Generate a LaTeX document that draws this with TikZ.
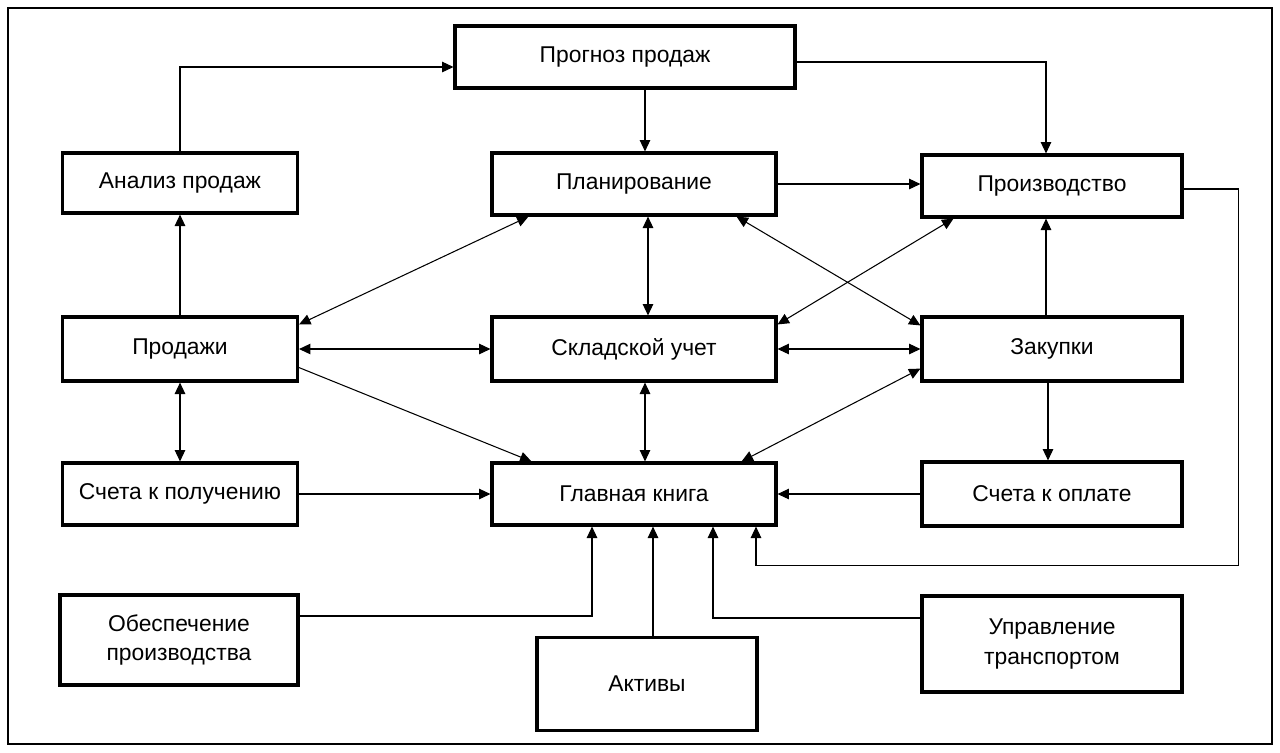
\documentclass[tikz,border=0pt]{standalone}
\usepackage{fontspec}
\setmainfont{Liberation Sans}
\usetikzlibrary{arrows.meta,calc}

\begin{document}
\begin{tikzpicture}[x=0.02cm,y=-0.02cm,font=\fontsize{13}{17}\selectfont,
box/.style={draw,line width=1.8pt,minimum width=4.7cm,minimum height=1.24cm,align=center,inner sep=0pt},
arr/.style={-{Triangle[length=6.5pt,width=6pt]},line width=0.6pt},
darr/.style={{Triangle[length=6.5pt,width=6pt]}-{Triangle[length=6.5pt,width=6pt]},line width=0.6pt}]
\useasboundingbox (0,0) rectangle (1280,752);
\draw[line width=1.4pt] (8,8) rectangle (1272,744);
\node[box,minimum width=6.8cm] (prognoz) at (625,57) {Прогноз продаж};
\node[box,minimum height=1.2cm] (analiz) at (180,183) {Анализ продаж};
\node[box,minimum width=5.68cm] (plan) at (634,184) {Планирование};
\node[box,minimum width=5.2cm] (proizv) at (1052,186) {Производство};
\node[box,minimum height=1.28cm] (prodazhi) at (180,349) {Продажи};
\node[box,minimum width=5.68cm,minimum height=1.28cm] (sklad) at (634,349) {Складской учет};
\node[box,minimum width=5.2cm,minimum height=1.28cm] (zakupki) at (1052,349) {Закупки};
\node[box] (poluch) at (180,494) {Счета к получению};
\node[box,minimum width=5.68cm] (kniga) at (634,494) {Главная книга};
\node[box,minimum width=5.2cm,minimum height=1.28cm] (oplata) at (1052,494) {Счета к оплате};
\node[box,minimum width=4.76cm,minimum height=1.8cm] (obesp) at (179,640) {Обеспечение\\производства};
\node[box,minimum width=4.4cm,minimum height=1.86cm] (aktivy) at (647,684) {Активы};
\node[box,minimum width=5.2cm,minimum height=1.92cm] (transp) at (1052,644) {Управление\\транспортом};
\draw[arr] (analiz.north) |- ($(prognoz.west)+(0,10)$);
\draw[arr] ($(prognoz.south)+(20,0)$) -- ($(plan.north)+(11,0)$);
\draw[arr] ($(prognoz.east)+(0,5)$) -| ($(proizv.north)+(-6,0)$);
\draw[arr] (plan.east) -- (plan.east -| proizv.west);
\draw[arr] ($(proizv.east)+(0,3)$) -- ++(55,0) |- ($(kniga.south)+(122,39)$) -- ($(kniga.south)+(122,0)$);
\draw[arr] (prodazhi.north) -- (analiz.south);
\draw[darr] ($(prodazhi.north east)+(0,9)$) -- ($(plan.south west)+(38,0)$);
\draw[darr] ($(plan.south)+(14,0)$) -- ($(sklad.north)+(14,0)$);
\draw[darr] ($(plan.south east)+(-41,0)$) -- ($(zakupki.north west)+(0,10)$);
\draw[darr] ($(proizv.south west)+(33,0)$) -- ($(sklad.north east)+(0,9)$);
\draw[arr] ($(zakupki.north)+(-6,0)$) -- ($(proizv.south)+(-6,0)$);
\draw[darr] (prodazhi.east) -- (sklad.west);
\draw[darr] (sklad.east) -- (zakupki.west);
\draw[arr] ($(prodazhi.south east)+(0,-15)$) -- ($(kniga.north west)+(41,0)$);
\draw[darr] ($(sklad.south)+(11,0)$) -- ($(kniga.north)+(11,0)$);
\draw[darr] ($(kniga.north east)+(-36,0)$) -- ($(zakupki.south west)+(0,-14)$);
\draw[darr] (prodazhi.south) -- (poluch.north);
\draw[arr] ($(zakupki.south)+(-4,0)$) -- ($(oplata.north)+(-4,0)$);
\draw[arr] (poluch.east) -- (kniga.west);
\draw[arr] (oplata.west) -- (kniga.east);
\draw[arr] ($(obesp.east)+(0,-24)$) -| ($(kniga.south)+(-42,0)$);
\draw[arr] ($(aktivy.north)+(6,0)$) -- ($(kniga.south)+(19,0)$);
\draw[arr] ($(transp.west)+(0,-26)$) -| ($(kniga.south)+(79,0)$);
\end{tikzpicture}
\end{document}
